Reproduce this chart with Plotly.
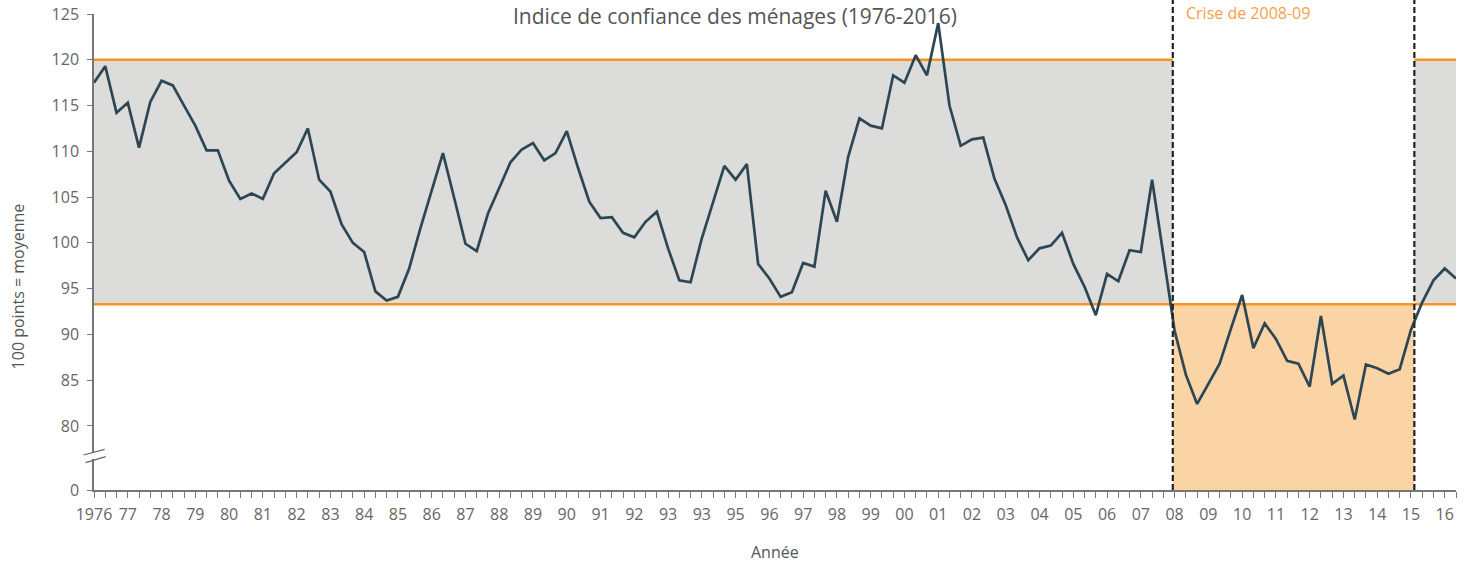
import plotly.graph_objects as go

# ---- data ----
year_labels = ["1976", "77", "78", "79", "80", "81", "82", "83", "84", "85", "86", "87",
               "88", "89", "90", "91", "92", "93", "93", "95", "96", "97", "98", "99",
               "00", "01", "02", "03", "04", "05", "06", "07", "08", "09", "10", "11",
               "12", "13", "14", "15", "16"]
confidence = [
    117.5, 119.3, 114.2, 115.3, 110.4, 115.4, 117.7, 117.2, 115.0, 112.8,
    110.1, 110.1, 106.8, 104.8, 105.4, 104.8, 107.6, 108.7, 109.9, 112.5,
    106.9, 105.6, 102.0, 100.0, 99.0, 94.7, 93.7, 94.1, 97.2, 101.6,
    105.6, 109.8, 104.9, 99.9, 99.1, 103.2, 106.0, 108.8, 110.2, 110.9,
    109.0, 109.8, 112.2, 108.2, 104.5, 102.7, 102.8, 101.1, 100.6, 102.3,
    103.4, 99.4, 95.9, 95.7, 100.5, 104.5, 108.4, 106.9, 108.6, 97.7,
    96.1, 94.1, 94.6, 97.8, 97.4, 105.7, 102.3, 109.4, 113.6, 112.8,
    112.5, 118.3, 117.5, 120.5, 118.3, 124.0, 115.0, 110.6, 111.3, 111.5,
    107.0, 104.1, 100.6, 98.1, 99.4, 99.7, 101.1, 97.7, 95.2, 92.1,
    96.6, 95.8, 99.2, 99.0, 106.9, 98.7, 90.4, 85.6, 82.4, 84.6,
    86.8, 90.6, 94.3, 88.5, 91.2, 89.5, 87.1, 86.8, 84.3, 92.0,
    84.6, 85.5, 80.7, 86.7, 86.3, 85.7, 86.2, 90.5, 93.5, 95.9,
    97.2, 96.1,
]
y_tick_values = [80, 85, 90, 95, 100, 105, 110, 115, 120, 125]
band_low = 93.3
band_high = 120
crisis_start = 95.84
crisis_end = 117.3
axis_floor = 73  # value shown as "0" on the broken axis
points_per_year = 3

x_idx = list(range(len(confidence)))
x_max = len(confidence) - 1

ORANGE = "#F7941D"
GRAY_FILL = "#DCDCDA"
ORANGE_FILL = "#FBD4A5"
LINE = "#2D4654"
TXT = "#666666"
FONT = "Open Sans"

fig = go.Figure()
fig.add_trace(go.Scatter(x=x_idx, y=confidence, mode="lines",
                         line=dict(color=LINE, width=2.7), hoverinfo="skip",
                         showlegend=False))

shapes = []
# grey band (outside crisis)
for a, b in [(0, crisis_start), (crisis_end, x_max)]:
    shapes.append(dict(type="rect", xref="x", yref="y", x0=a, x1=b, y0=band_low, y1=band_high,
                       fillcolor=GRAY_FILL, line=dict(width=0), layer="below"))
    shapes.append(dict(type="line", xref="x", yref="y", x0=a, x1=b, y0=band_high, y1=band_high,
                       line=dict(color=ORANGE, width=2.5), layer="below"))
# crisis area
shapes.append(dict(type="rect", xref="x", yref="y", x0=crisis_start, x1=crisis_end,
                   y0=axis_floor, y1=band_low, fillcolor=ORANGE_FILL, line=dict(width=0), layer="below"))
shapes.append(dict(type="line", xref="x", yref="y", x0=0, x1=x_max, y0=band_low, y1=band_low,
                   line=dict(color=ORANGE, width=2.5), layer="below"))
# dashed crisis boundaries
for xv in (crisis_start, crisis_end):
    shapes.append(dict(type="line", xref="x", yref="paper", x0=xv, x1=xv, y0=0, y1=1.04,
                       line=dict(color="#222222", width=2.2, dash="6px,3px"), layer="above"))
# axis break
shapes.append(dict(type="rect", xref="paper", yref="paper", x0=-0.0016, x1=0.0022,
                   y0=0.0655, y1=0.0795, fillcolor="white", line=dict(width=0), layer="above"))
shapes.append(dict(type="line", xref="paper", yref="paper", x0=-0.0077, x1=0.0078,
                   y0=0.0735, y1=0.0855, line=dict(color="#666666", width=1.2), layer="above"))
shapes.append(dict(type="line", xref="paper", yref="paper", x0=-0.0062, x1=0.0086,
                   y0=0.0574, y1=0.0700, line=dict(color="#666666", width=1.2), layer="above"))

annotations = [
    dict(text="Indice de confiance des ménages (1976-2016)", xref="paper", yref="paper",
         x=0.4706, y=1.0294, xanchor="center", yanchor="top", showarrow=False,
         font=dict(family=FONT, size=21, color="#555555")),
    dict(text="Crise de 2008-09", xref="x", yref="paper", x=crisis_start + 1.0, y=1.0294,
         xanchor="left", yanchor="top", showarrow=False,
         font=dict(family=FONT, size=16, color="#F7A04B")),
    dict(text="100 points = moyenne", xref="paper", yref="paper", x=-0.0555, y=0.4286,
         xanchor="center", yanchor="middle", textangle=-90, showarrow=False,
         font=dict(family=FONT, size=16, color="#555555")),
    dict(text="Année", xref="paper", yref="paper", x=0.5, y=-0.13,
         xanchor="center", yanchor="middle", showarrow=False,
         font=dict(family=FONT, size=16, color="#555555")),
]

fig.update_layout(
    width=1479, height=563,
    margin=dict(l=94, r=23, t=14, b=73),
    plot_bgcolor="white", paper_bgcolor="white",
    shapes=shapes, annotations=annotations,
    xaxis=dict(range=[0, x_max], showgrid=False, zeroline=False, automargin=False,
               showline=True, linecolor="#777777", linewidth=1.5,
               tickmode="array", tickvals=list(range(0, x_max + 1, points_per_year)),
               ticktext=year_labels, ticks="outside", ticklen=6, tickcolor="#777777",
               tickwidth=1.2, ticklabelstandoff=3,
               minor=dict(dtick=1, tick0=0, ticks="outside", ticklen=6, tickcolor="#777777",
                          tickwidth=1.2, showgrid=False),
               tickfont=dict(family=FONT, size=16, color=TXT)),
    yaxis=dict(range=[axis_floor, 125], showgrid=False, zeroline=False, automargin=False,
               showline=True, linecolor="#777777", linewidth=1.5,
               tickmode="array", tickvals=[axis_floor] + y_tick_values,
               ticktext=["0"] + [str(v) for v in y_tick_values],
               ticks="outside", ticklen=5, tickcolor="#777777", tickwidth=1.2,
               ticklabelstandoff=5,
               tickfont=dict(family=FONT, size=16, color=TXT)),
)

fig.write_html("out.html", config={"displayModeBar": False},
               post_script="document.body.style.margin='0';document.body.style.overflow='hidden';")
